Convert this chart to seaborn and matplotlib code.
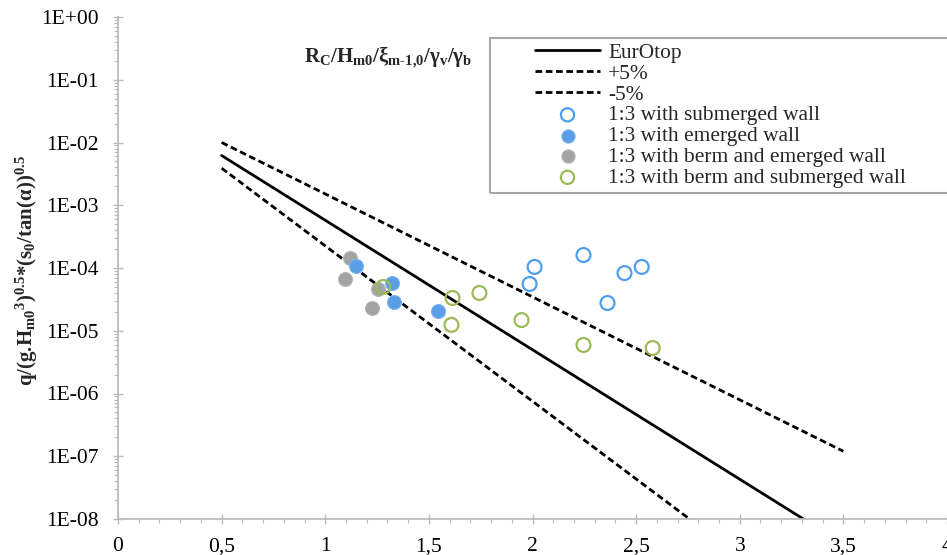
import numpy as np
import pandas as pd
import matplotlib
matplotlib.use("Agg")
import matplotlib.pyplot as plt
import matplotlib.ticker as mticker
from matplotlib.patches import Rectangle
import seaborn as sns

# ---------------- data ----------------
line_x = [0.5, 3.5]
eurotop_y = [6.2e-3, 4.0e-9]
plus5_y = [1.0e-2, 1.2e-7]
minus5_y = [3.9e-3, 1.45e-10]

sub_x = [2.01, 2.246, 1.986, 2.444, 2.527, 2.362]
sub_y = [1.04e-4, 1.61e-4, 5.56e-5, 8.3e-5, 1.04e-4, 2.77e-5]

emer_x = [1.150, 1.324, 1.333, 1.546]
emer_y = [1.08e-4, 5.77e-5, 2.87e-5, 2.06e-5]

berm_emer_x = [1.121, 1.097, 1.256, 1.227]
berm_emer_y = [1.44e-4, 6.68e-5, 4.63e-5, 2.31e-5]

berm_sub_x = [1.280, 1.614, 1.744, 1.609, 1.947, 2.246, 2.580]
berm_sub_y = [4.98e-5, 3.33e-5, 4.0e-5, 1.24e-5, 1.48e-5, 5.93e-6, 5.31e-6]

x_ticks = [0, 0.5, 1, 1.5, 2, 2.5, 3, 3.5, 4]
x_tick_labels = ["0", "0,5", "1", "1,5", "2", "2,5", "3", "3,5", "4"]
y_ticks = [1e0, 1e-1, 1e-2, 1e-3, 1e-4, 1e-5, 1e-6, 1e-7, 1e-8]
y_tick_labels = ["1E+00", "1E-01", "1E-02", "1E-03", "1E-04", "1E-05",
                 "1E-06", "1E-07", "1E-08"]

labels = ["EurOtop", "+5%", "-5%", "1:3 with submerged wall",
          "1:3 with emerged wall", "1:3 with berm and emerged wall",
          "1:3 with berm and submerged wall"]

# ---------------- style ----------------
sns.set_theme(style="white")
plt.rcParams["font.family"] = ["Liberation Serif", "DejaVu Serif"]
plt.rcParams["mathtext.fontset"] = "custom"
plt.rcParams["mathtext.rm"] = "Liberation Serif:bold"
plt.rcParams["mathtext.bf"] = "Liberation Serif:bold"
plt.rcParams["mathtext.it"] = "Liberation Serif:bold"

W, H = 947, 555
fig = plt.figure(figsize=(W / 100, H / 100), dpi=100)
ax = fig.add_axes([118 / W, 1 - 519 / H, (947 - 118) / W, (519 - 17) / H])

grey = "#bcbcbc"
blue_open = "#4f9ef0"
blue_fill = "#5a9fe6"
grey_pt = "#a3a3a3"
green = "#9bbb59"

df_line = pd.DataFrame({"x": line_x, "eu": eurotop_y, "p5": plus5_y, "m5": minus5_y})
dash = (2.4, 1.3)
sns.lineplot(data=df_line, x="x", y="eu", ax=ax, color="black", lw=2.0, label=labels[0])
sns.lineplot(data=df_line, x="x", y="p5", ax=ax, color="black", lw=2.0,
             dashes=False, linestyle=(0, dash), label=labels[1])
sns.lineplot(data=df_line, x="x", y="m5", ax=ax, color="black", lw=2.0,
             dashes=False, linestyle=(0, dash), label=labels[2])

ms = 100
sns.scatterplot(x=sub_x, y=sub_y, ax=ax, s=ms, facecolor="none",
                edgecolor=blue_open, linewidth=1.6, label=labels[3], zorder=3)
sns.scatterplot(x=berm_emer_x, y=berm_emer_y, ax=ax, s=ms, color=grey_pt,
                edgecolor="#b5b5b5", linewidth=0.8, label=labels[5], zorder=3)
sns.scatterplot(x=emer_x, y=emer_y, ax=ax, s=ms, color=blue_fill,
                edgecolor="#78b4f0", linewidth=0.8, label=labels[4], zorder=3)
sns.scatterplot(x=berm_sub_x, y=berm_sub_y, ax=ax, s=ms, facecolor="none",
                edgecolor=green, linewidth=1.6, label=labels[6], zorder=4)

ax.set_yscale("log")
ax.set_xlim(0, 4)
ax.set_ylim(1e-8, 1e0)

ax.xaxis.set_major_locator(mticker.FixedLocator(x_ticks))
ax.xaxis.set_major_formatter(mticker.FixedFormatter(x_tick_labels))
ax.xaxis.set_minor_locator(mticker.MultipleLocator(0.1))
ax.yaxis.set_major_locator(mticker.FixedLocator(y_ticks))
ax.yaxis.set_major_formatter(mticker.FixedFormatter(y_tick_labels))
ax.yaxis.set_minor_locator(mticker.LogLocator(base=10, subs=np.arange(2, 10), numticks=20))
ax.yaxis.set_minor_formatter(mticker.NullFormatter())

for s in ["top", "right"]:
    ax.spines[s].set_visible(False)
for s in ["left", "bottom"]:
    ax.spines[s].set_color(grey)
    ax.spines[s].set_linewidth(1.3)

ax.tick_params(which="major", direction="inout", length=7, width=1.0, color=grey,
               labelsize=15.5, labelcolor="black")
ax.tick_params(which="minor", direction="out", length=3, width=0.8, color=grey)
ax.tick_params(axis="y", which="major", pad=10.5)
ax.tick_params(axis="x", which="major", pad=9.5)
ax.tick_params(which="both", left=True, bottom=True)

ax.set_xlabel("")
ax.set_ylabel("")
fig.text(27 / W, 1 - 270 / H,
         r"q/(g.H$_{\mathbf{m0}}$$^{\mathbf{3}}$)$^{\mathbf{0.5}}$*(s$_{\mathbf{0}}$/tan($\mathbf{\alpha}$))$^{\mathbf{0.5}}$",
         rotation=90, ha="center", va="center", fontsize=15, fontweight="bold")

fig.text(388 / W, 1 - 57 / H,
         r"R$_{\mathbf{C}}$/H$_{\mathbf{m0}}$/ξ$_{\text{m-1,0}}$/γ$_{\mathbf{v}}$/γ$_{\mathbf{b}}$",
         ha="center", va="center", fontsize=15, fontweight="bold")

# legend frame
fig.patches.append(Rectangle((490 / W, 1 - 193 / H), (965 - 490) / W, (193 - 38) / H,
                             transform=fig.transFigure, fill=False,
                             edgecolor="#a6a6a6", linewidth=1.5, zorder=5))
handles, labs = ax.get_legend_handles_labels()
order = [labs.index(l) for l in labels]
ax.legend([handles[i] for i in order], [labs[i] for i in order],
          loc="upper left", bbox_to_anchor=(535 / W, 1 - 43 / H),
          bbox_transform=fig.transFigure, frameon=False, fontsize=15.4,
          borderpad=0, borderaxespad=0, labelspacing=0.04, handlelength=3.04,
          handletextpad=0.39, markerscale=0.95)

fig.savefig("out.png", dpi=100)
